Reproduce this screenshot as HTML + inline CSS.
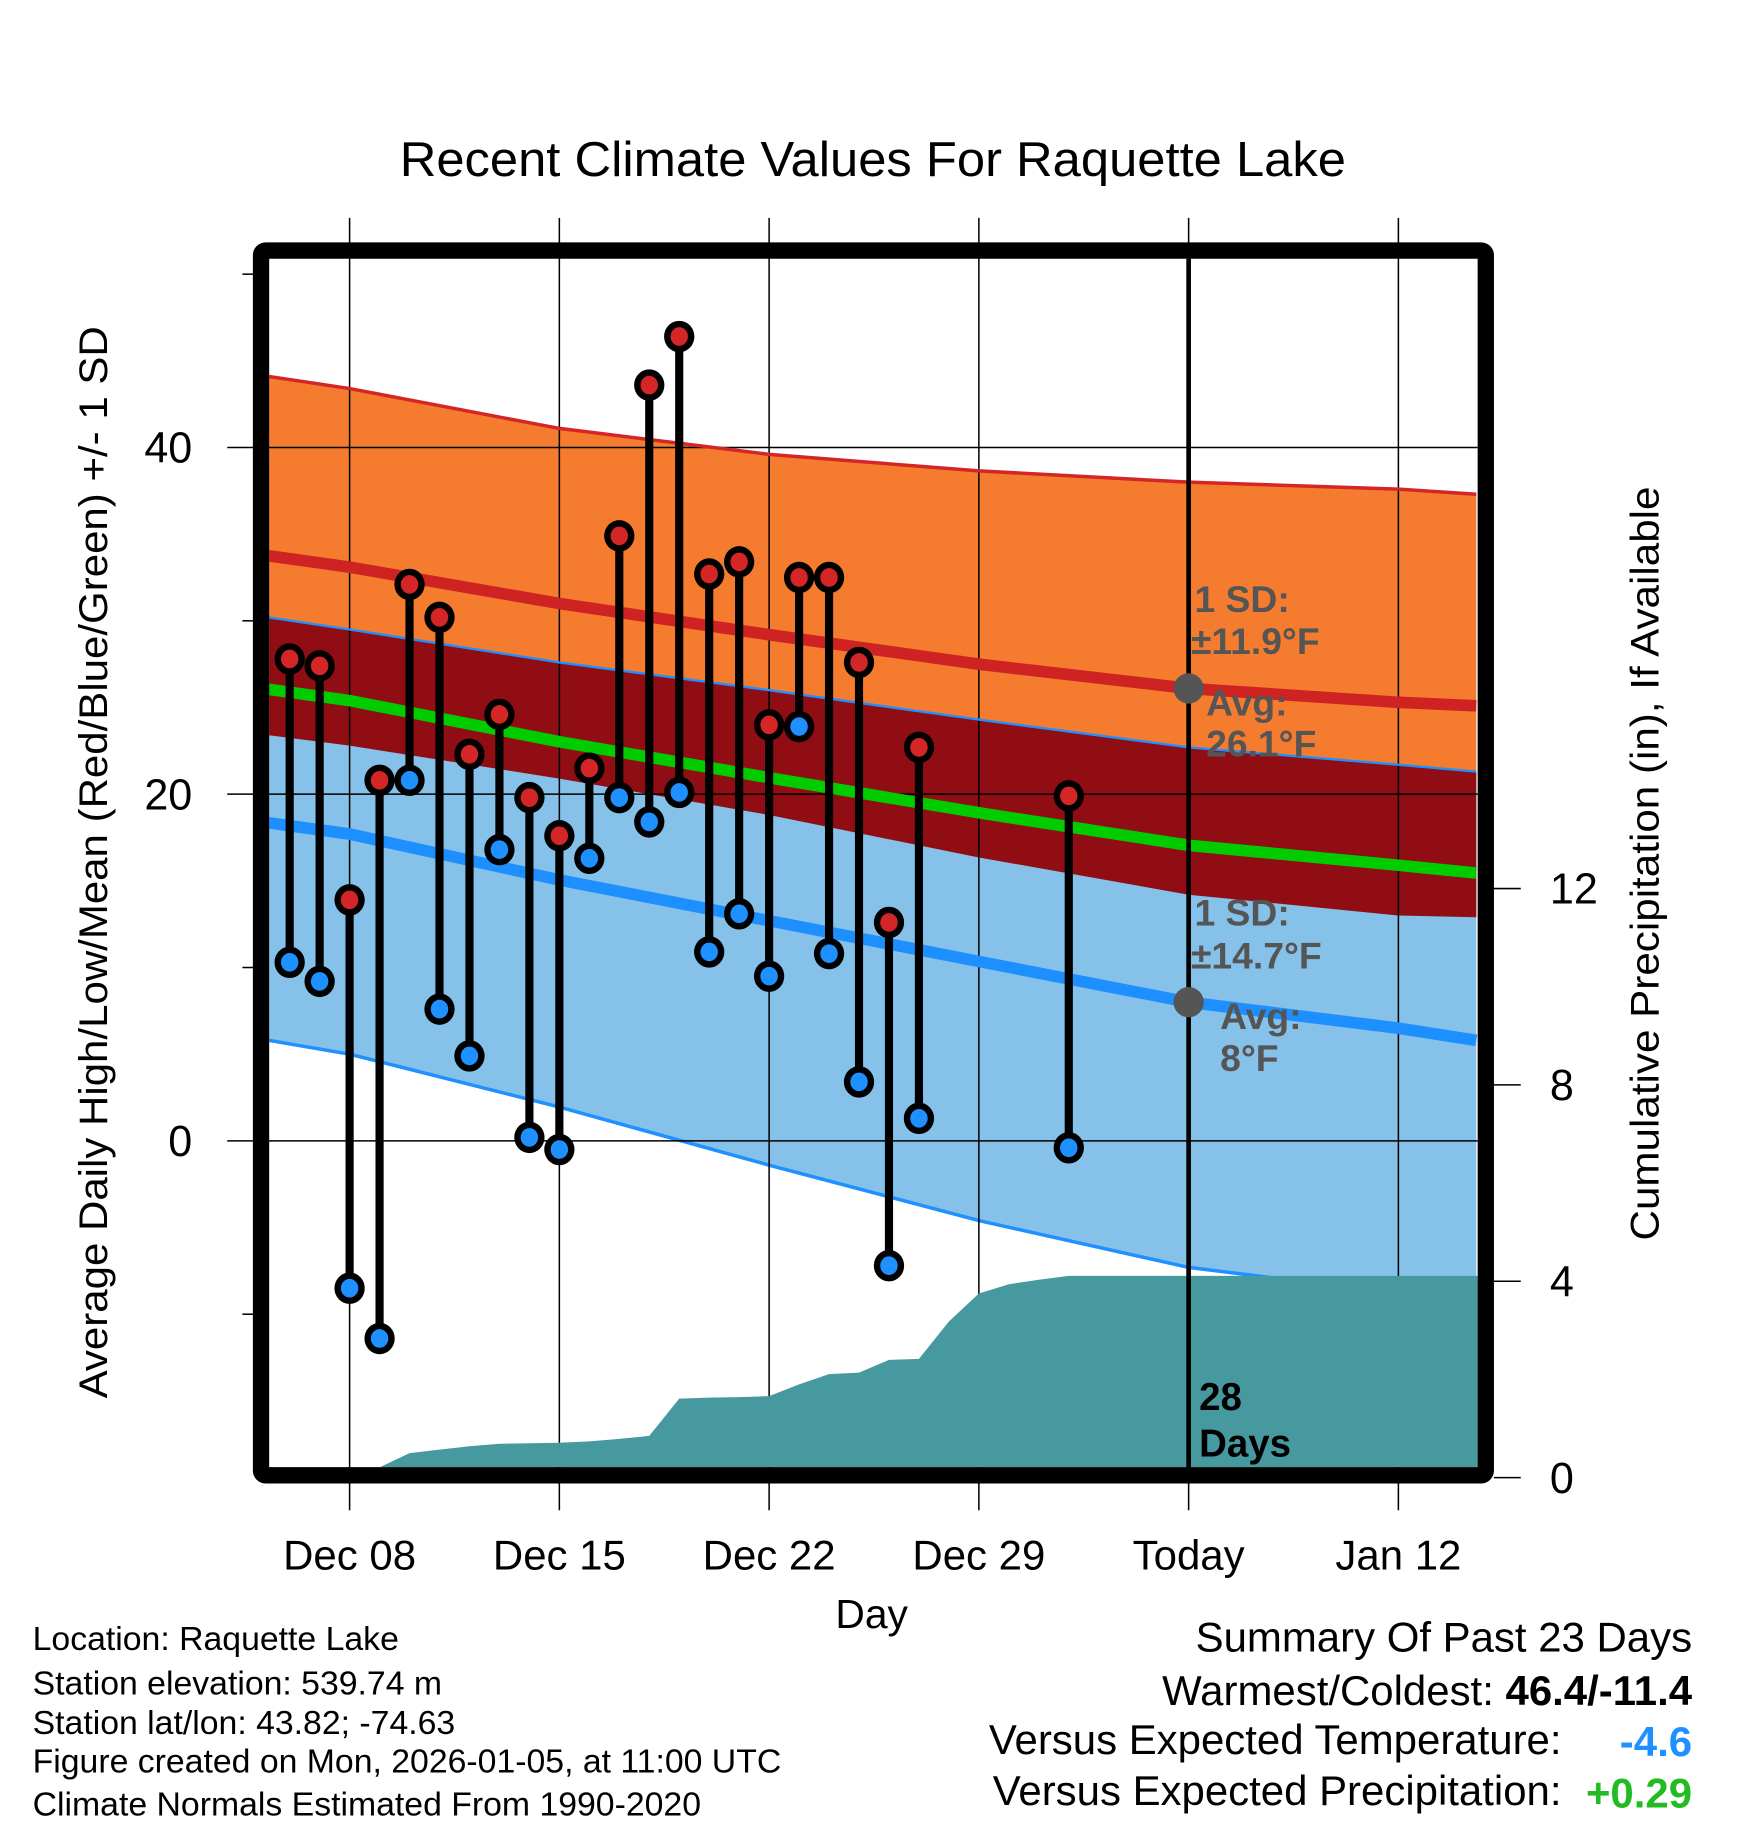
<!DOCTYPE html>
<html><head><meta charset="utf-8"><style>
html,body{margin:0;padding:0;background:#fff}
svg{display:block;font-family:"Liberation Sans",sans-serif}
</style></head><body>
<svg id="chart" width="1748" height="1828" viewBox="0 0 1500 1568.65" preserveAspectRatio="none" xmlns="http://www.w3.org/2000/svg">
<defs><clipPath id="plotclip"><rect x="231" y="222" width="1037" height="1037"/></clipPath></defs>
<text x="749" y="151" font-size="42" text-anchor="middle" textLength="812" lengthAdjust="spacingAndGlyphs">Recent Climate Values For Raquette Lake</text>
<g id="bands" clip-path="url(#plotclip)"></g>
<g id="grid"></g>
<g id="precip" clip-path="url(#plotclip)"></g>
<g id="curves" clip-path="url(#plotclip)"></g>
<g id="today"></g>
<g id="obs"></g>
<rect x="224" y="215" width="1051" height="1051" fill="none" stroke="#000" stroke-width="14" rx="4"/>
<g id="axes"></g>
<text transform="translate(92,740) rotate(-90)" font-size="34" text-anchor="middle" textLength="920" lengthAdjust="spacingAndGlyphs">Average Daily High/Low/Mean (Red/Blue/Green) +/- 1 SD</text>
<text transform="translate(1423,741) rotate(-90)" font-size="34" text-anchor="middle" textLength="647" lengthAdjust="spacingAndGlyphs">Cumulative Precipitation (in), If Available</text>
<text x="748" y="1397" font-size="35" text-anchor="middle">Day</text>
<g font-weight="bold" font-size="32" fill="#555">
<text x="1025" y="525">1 SD:</text><text x="1022" y="561">±11.9°F</text>
<text x="1035" y="614">Avg:</text><text x="1035" y="649">26.1°F</text>
<text x="1025" y="794">1 SD:</text><text x="1022" y="831">±14.7°F</text>
<text x="1047" y="883">Avg:</text><text x="1047" y="919">8°F</text>
</g>
<g font-weight="bold" font-size="33" fill="#000">
<text x="1029" y="1210">28</text><text x="1029" y="1250">Days</text></g>
<g font-size="29">
<text x="28" y="1416">Location: Raquette Lake</text>
<text x="28" y="1454">Station elevation: 539.74 m</text>
<text x="28" y="1488">Station lat/lon: 43.82; -74.63</text>
<text x="28" y="1521">Figure created on Mon, 2026-01-05, at 11:00 UTC</text>
<text x="28" y="1558">Climate Normals Estimated From 1990-2020</text>
</g>
<g font-size="36" text-anchor="end">
<text x="1452" y="1417">Summary Of Past 23 Days</text>
<text x="1452" y="1463">Warmest/Coldest: <tspan font-weight="bold">46.4/-11.4</tspan></text>
<text x="1340" y="1505">Versus Expected Temperature:</text>
<text x="1452" y="1507" font-weight="bold" fill="#1e90ff">-4.6</text>
<text x="1340" y="1549">Versus Expected Precipitation:</text>
<text x="1452" y="1551" font-weight="bold" fill="#22bb22">+0.29</text>
</g>
</svg>
<script>
// normals (day index: 0 = Dec 08)
const normDays   = [-2.7, 0, 7, 14, 21, 28, 35, 37.6];
const highMean   = [33.75, 33.1, 31.0, 29.2, 27.5, 26.1, 25.3, 25.1];
const highUpper  = [44.1, 43.4, 41.1, 39.6, 38.65, 38.0, 37.6, 37.3];
const lowMean    = [18.35, 17.7, 15.05, 12.7, 10.35, 8.0, 6.5, 5.8];
const lowUpper   = [30.2, 29.5, 27.6, 26.0, 24.3, 22.7, 21.7, 21.3];
const lowLower   = [5.8, 5.0, 1.95, -1.4, -4.6, -7.3, -8.8, -9.3];
// observations Dec 06 .. Jan 01
const obsDays = [-2,-1,0,1,2,3,4,5,6,7,8,9,10,11,12,13,14,15,16,17,18,19,20,21,22,23,24];
const obsHigh = [27.8,27.4,13.9,20.8,32.1,30.2,22.3,24.6,19.8,17.6,21.5,34.9,43.6,46.4,32.7,33.4,24.0,32.5,32.5,27.6,12.6,22.7,null,null,null,null,19.9];
const obsLow  = [10.3,9.2,-8.5,-11.4,20.8,7.6,4.9,16.8,0.2,-0.5,16.3,19.8,18.4,20.1,10.9,13.1,9.5,23.9,10.8,3.4,-7.2,1.3,null,null,null,null,-0.4];
// cumulative precipitation (in)
const precipDays = [1,2,3,4,5,6,7,8,9,10,11,12,13,14,15,16,17,18,19,20,21,22,23,24];
const precipVals = [0.21,0.5,0.57,0.64,0.69,0.7,0.71,0.74,0.79,0.85,1.61,1.63,1.64,1.66,1.9,2.11,2.14,2.4,2.42,3.18,3.75,3.94,4.03,4.11];
const xTickDays = [0,7,14,21,28,35];
const xTickLabels = ["Dec 08","Dec 15","Dec 22","Dec 29","Today","Jan 12"];
const yTicks = [40,20,0];
const yMinor = [50,30,10,-10];
const pTicks = [0,4,8,12];
const todayDay = 28;

const X = d => 300 + d*25.714;
const Y = v => 979 - v*14.875;
const P = v => 1268 - v*42.125;
const NS = "http://www.w3.org/2000/svg";
function mk(tag, parent, attrs){const e=document.createElementNS(NS,tag);for(const k in attrs)e.setAttribute(k,attrs[k]);document.getElementById(parent).appendChild(e);return e;}
const highLower = highMean.map((m,i)=>2*m-highUpper[i]);
const pts = arr => normDays.map((d,i)=>X(d)+","+Y(arr[i]));
const band = (up,lo) => pts(up).concat(pts(lo).reverse()).join(" ");

let e;
e=mk("polygon","bands",{points:band(highUpper,highLower),fill:"#f57b2e"});


e=mk("polygon","bands",{points:band(lowUpper,lowLower),fill:"#85c1e9"});


e=mk("polygon","bands",{points:band(lowUpper,highLower),fill:"#900d14"});


e=mk("polyline","bands",{points:pts(lowLower).join(" "),fill:"none",stroke:"#1e90ff","stroke-width":3});



// grid
xTickDays.forEach((d,i)=>{
  e=mk("line","grid",{x1:X(d),x2:X(d),y1:187,y2:1296,stroke:"#000","stroke-width":1.3});
  
  
  e=mk("text","axes",{x:X(d),y:1347,"font-size":36,"text-anchor":"middle"});
  e.textContent=xTickLabels[i];
  
  
});
yTicks.forEach(v=>{
  e=mk("line","grid",{x1:195,x2:1268,y1:Y(v),y2:Y(v),stroke:"#000","stroke-width":1.3});
  
  
  e=mk("text","axes",{x:165,y:Y(v)+13,"font-size":37,"text-anchor":"end"});
  e.textContent=v;
  
  
});
yMinor.forEach(v=>{
  e=mk("line","grid",{x1:208,x2:218,y1:Y(v),y2:Y(v),stroke:"#000","stroke-width":1.3});
  
  
});
pTicks.forEach(v=>{
  e=mk("line","axes",{x1:1282,x2:1305,y1:P(v),y2:P(v),stroke:"#000","stroke-width":1.3});
  
  
  e=mk("text","axes",{x:1330,y:P(v)+13,"font-size":37});
  e.textContent=v;
  
  
});

// precip area
let pp=[X(precipDays[0])+","+1270];
precipDays.forEach((d,i)=>pp.push(X(d)+","+P(precipVals[i])));
pp.push("1270,"+P(precipVals[precipVals.length-1]));
pp.push("1270,1270");
e=mk("polygon","precip",{points:pp.join(" "),fill:"#4799a0"});



// curves
function curve(arr,color,w,name){
  e=mk("polyline","curves",{points:pts(arr).join(" "),fill:"none",stroke:color,"stroke-width":w});
  
  
}
curve(highUpper,"#d42626",3,"high-upper-line");
curve(lowUpper,"#1e90ff",2,"low-upper-line");
curve(highMean,"#cf2222",10,"high-mean-line");
curve(highMean.map((h,i)=>(h+lowMean[i])/2),"#00cc00",10,"mean-line");
curve(lowMean,"#1e8fff",10,"low-mean-line");

// today
e=mk("line","today",{x1:X(todayDay),x2:X(todayDay),y1:222,y2:1268,stroke:"#000","stroke-width":4});


function interp(arr,d){for(let i=0;i<normDays.length-1;i++){if(d>=normDays[i]&&d<=normDays[i+1]){const t=(d-normDays[i])/(normDays[i+1]-normDays[i]);return arr[i]+t*(arr[i+1]-arr[i]);}}return arr[arr.length-1];}
e=mk("circle","today",{cx:X(todayDay),cy:Y(interp(highMean,todayDay)),r:13,fill:"#555"});


e=mk("circle","today",{cx:X(todayDay),cy:Y(interp(lowMean,todayDay)),r:13,fill:"#555"});



// observations
obsDays.forEach((d,i)=>{
  if(obsHigh[i]===null) return;
  const x=X(d);
  e=mk("line","obs",{x1:x,x2:x,y1:Y(obsHigh[i]),y2:Y(obsLow[i]),stroke:"#000","stroke-width":7});
  
  
  [[obsHigh[i],"#d42626","daily-high-marker"],[obsLow[i],"#1e90ff","daily-low-marker"]].forEach(([v,c,n])=>{
    e=mk("ellipse","obs",{cx:x,cy:Y(v),rx:13,ry:13.5,fill:"#000"});
    
    
    e=mk("ellipse","obs",{cx:x,cy:Y(v),rx:7.5,ry:8,fill:c});
    
    
  });
});
</script>
</body></html>
